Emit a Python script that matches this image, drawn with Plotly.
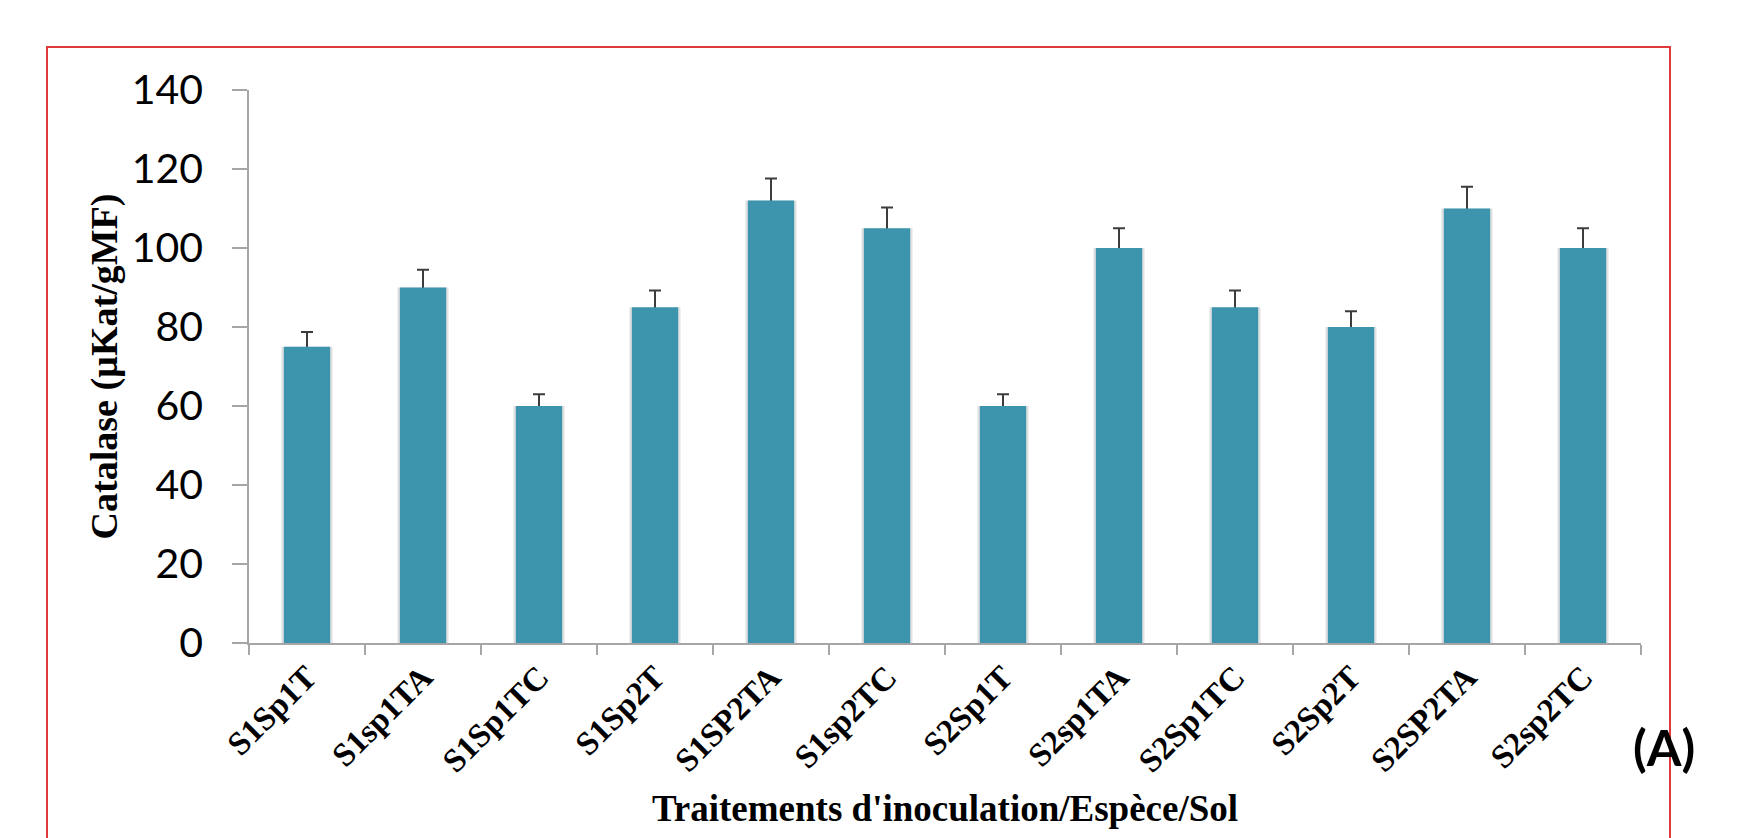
import plotly.graph_objects as go

categories = ["S1Sp1T", "S1sp1TA", "S1Sp1TC", "S1Sp2T", "S1SP2TA", "S1sp2TC",
              "S2Sp1T", "S2sp1TA", "S2Sp1TC", "S2Sp2T", "S2SP2TA", "S2sp2TC"]
values = [75, 90, 60, 85, 112, 105, 60, 100, 85, 80, 110, 100]
errors = [3.75, 4.5, 3.0, 4.25, 5.6, 5.25, 3.0, 5.0, 4.25, 4.0, 5.5, 5.0]
y_ticks = [0, 20, 40, 60, 80, 100, 120, 140]

W, H = 1741, 838
OFF = 8  # page body margin
L, T = 249 - OFF, 90 - OFF
pw, ph = 1392, 553
R = W - L - pw
B = H - T - ph

def px_x(x):
    return (x - OFF - L) / pw

def px_y(y):
    return (T + ph - (y - OFF)) / ph

fig = go.Figure()

# soft shadow behind bars; carries the error bars (lower half hidden by the bar drawn on top)
fig.add_trace(go.Bar(
    x=categories, y=values, width=0.44,
    marker=dict(color="rgba(90,90,90,0.18)", line=dict(width=0)),
    error_y=dict(type="data", array=errors, color="#3c3c3c", thickness=2, width=6),
    hoverinfo="skip", showlegend=False,
))

fig.add_trace(go.Bar(
    x=categories, y=values, width=0.40,
    marker=dict(color="#3c95ad", line=dict(width=0)),
    showlegend=False,
))

fig.update_layout(
    width=W, height=H,
    margin=dict(l=L, r=R, t=T, b=B, autoexpand=False),
    paper_bgcolor="white", plot_bgcolor="white",
    barmode="overlay",
    xaxis=dict(
        type="category",
        showline=True, linecolor="#a6a6a6", linewidth=1.5,
        ticks="outside", tickson="boundaries", ticklen=10, tickcolor="#a6a6a6", tickwidth=1.5,
        tickangle=-45,
        tickfont=dict(family="Liberation Serif", size=33, color="black", weight="bold"),
        showgrid=False, zeroline=False,
        title=dict(text="Traitements d'inoculation/Espèce/Sol",
                   font=dict(family="Liberation Serif", size=37, color="black", weight="bold"),
                   standoff=17),
        automargin=False,
    ),
    yaxis=dict(
        range=[0, 140], tickvals=y_ticks,
        showline=True, linecolor="#a6a6a6", linewidth=1.5,
        ticks="outside", ticklen=15, tickcolor="#a6a6a6", tickwidth=1.5,
        ticklabelstandoff=21,
        tickfont=dict(family="Lato", size=41, color="black"),
        showgrid=False, zeroline=False,
        title=dict(text="Catalase (µKat/gMF)",
                   font=dict(family="Liberation Serif", size=38, color="black", weight="bold"),
                   standoff=2),
        automargin=False,
    ),
    shapes=[dict(type="rect", xref="paper", yref="paper",
                 x0=px_x(47), x1=px_x(1670), y0=px_y(900), y1=px_y(47),
                 line=dict(color="#e0393e", width=2), fillcolor="rgba(0,0,0,0)", layer="below")],
    annotations=[dict(text="<b>(A)</b>", xref="paper", yref="paper",
                      x=px_x(1664), y=px_y(747), xanchor="center", yanchor="middle",
                      showarrow=False,
                      font=dict(family="Lato", size=50, color="black"))],
)

fig.write_html("out.html")
